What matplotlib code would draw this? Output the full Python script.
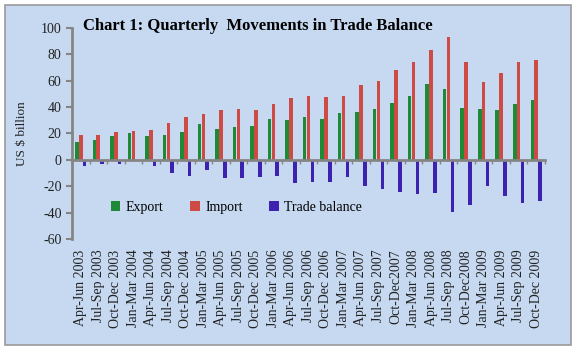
import numpy as np
import matplotlib
matplotlib.use("Agg")
import matplotlib.pyplot as plt
from matplotlib.patches import Rectangle
from matplotlib.transforms import blended_transform_factory

quarters = ["Apr-Jun 2003", "Jul-Sep 2003", "Oct-Dec 2003", "Jan-Mar 2004",
            "Apr-Jun 2004", "Jul-Sep 2004", "Oct-Dec 2004", "Jan-Mar 2005",
            "Apr-Jun 2005", "Jul-Sep 2005", "Oct-Dec 2005", "Jan-Mar 2006",
            "Apr-Jun 2006", "Jul-Sep 2006", "Oct-Dec 2006", "Jan-Mar 2007",
            "Apr-Jun 2007", "Jul-Sep 2007", "Oct-Dec2007", "Jan-Mar 2008",
            "Apr-Jun 2008", "Jul-Sep 2008", "Oct-Dec2008", "Jan-Mar 2009",
            "Apr-Jun 2009", "Jul-Sep 2009", "Oct-Dec 2009"]
export = [13.4, 15.2, 17.9, 20.2, 17.9, 18.9, 21.0, 27.3, 23.7, 24.7, 25.8, 31.0,
          30.3, 32.8, 31.0, 35.6, 36.4, 38.9, 43.4, 48.7, 57.3, 53.8, 39.6, 38.9,
          38.1, 42.7, 45.2]
imports = [18.9, 18.9, 21.2, 22.2, 23.0, 28.0, 32.8, 34.6, 38.1, 38.9, 38.1, 42.4,
           47.0, 48.7, 47.7, 48.7, 56.8, 60.0, 68.0, 74.2, 83.0, 93.4, 74.2, 59.0,
           65.7, 74.2, 76.0]
balance = [-5.0, -3.3, -3.3, -0.6, -5.0, -9.6, -12.1, -8.0, -13.9, -13.9, -12.6, -12.1,
           -17.2, -16.4, -16.4, -12.6, -20.0, -22.0, -24.5, -26.0, -25.3, -39.4, -34.0, -20.0,
           -27.0, -32.3, -31.5]

plt.rcParams['font.family'] = ['Liberation Serif', 'DejaVu Serif']
plt.rcParams['axes.unicode_minus'] = False

fig = plt.figure(figsize=(5.76, 3.49), dpi=100)
fig.patch.set_facecolor('white')
fig.patches.append(Rectangle((0.008, 0.012), 0.984, 0.975, transform=fig.transFigure,
                             facecolor='#C6D9F1', edgecolor='#9A9A9A', linewidth=1.2, zorder=-10))

ax = fig.add_axes([0.125, 0.315, 0.821, 0.605])
ax.set_facecolor('none')

x = np.arange(len(quarters))
w = 0.22
ax.bar(x - w, export, w * 0.92, color='#1E8A36', label='Export')
ax.bar(x, imports, w * 0.92, color='#CD4A45', label='Import')
ax.bar(x + w, balance, w * 0.92, color='#3C22AE', label='Trade balance')

ax.set_xlim(-0.5, len(quarters) - 0.5)
ax.set_ylim(-60, 100)
ax.set_yticks(range(-60, 101, 20))

gray = '#858585'
for s in ['top', 'right']:
    ax.spines[s].set_visible(False)
ax.spines['left'].set_color(gray)
ax.spines['left'].set_linewidth(2)
ax.spines['bottom'].set_position(('data', 0))
ax.spines['bottom'].set_color(gray)
ax.spines['bottom'].set_linewidth(2)

ax.tick_params(axis='y', direction='out', length=4, width=1.5, color=gray,
               labelsize=10, labelcolor='#222222')
ax.set_xticks(x)
ax.set_xticklabels([])
ax.tick_params(axis='x', which='major', length=0)
ax.set_xticks(np.arange(-0.5, len(quarters)), minor=True)
ax.tick_params(axis='x', which='minor', direction='out', length=3, width=1, color=gray)

trans = blended_transform_factory(ax.transData, ax.transAxes)
for i, q in enumerate(quarters):
    ax.text(i, -0.05, q, transform=trans, rotation=90, ha='center', va='top',
            fontsize=10, color='#222222')

ax.set_ylabel('US $ billion', fontsize=9.5, color='#222222', labelpad=9)

fig.text(0.448, 0.925, 'Chart 1: Quarterly  Movements in Trade Balance',
         ha='center', va='center', fontsize=12, fontweight='bold')

ax.legend(loc='center left', bbox_to_anchor=(0.055, 0.15), ncol=3, frameon=False,
          fontsize=10, handlelength=0.7, handleheight=0.7, handletextpad=0.4,
          columnspacing=1.9)

fig.savefig('out.png', dpi=100)
